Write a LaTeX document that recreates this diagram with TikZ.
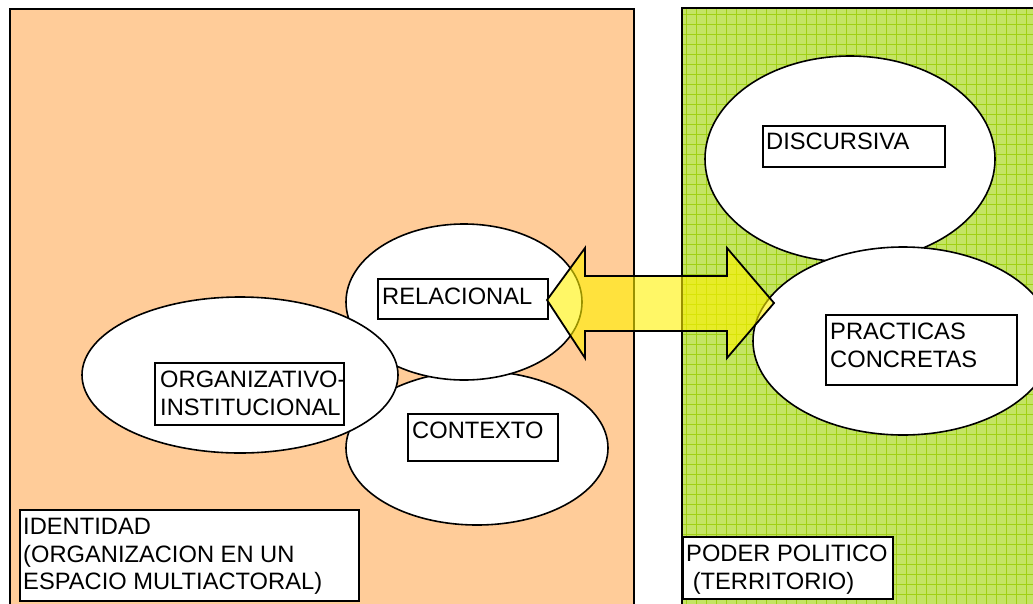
\documentclass[tikz,border=0pt]{standalone}
\usepackage{fontspec}
\setmainfont{Liberation Sans}
\usetikzlibrary{shapes.geometric}
\definecolor{peach}{RGB}{255,204,153}
\definecolor{limebg}{RGB}{196,228,100}
\definecolor{limeline}{RGB}{160,208,20}
\tikzset{
  oval/.style={ellipse, draw=black, line width=1.6pt, fill=white, inner sep=0pt},
  tbox/.style={rectangle, draw=black, line width=2.2pt, fill=white, inner sep=0pt, anchor=north west},
  ttext/.style={anchor=north west, inner sep=0pt, align=left, font=\fontsize{23.7}{27.6}\selectfont},
  panel/.style={draw=black, line width=1.8pt},
  bigarrow/.style={fill=yellow, fill opacity=0.6, draw=black, line width=1.8pt, line join=miter}
}
\begin{document}
\begin{tikzpicture}[x=1pt,y=-1pt]
\clip (0,0) rectangle (1033,603);
\fill[white] (0,0) rectangle (1033,603);
% left panel
\filldraw[panel, fill=peach] (10,9) rectangle (634,620);
% right panel
\fill[limebg] (682,8) rectangle (1045,620);
\foreach \i in {0,...,36} \draw[limeline, line width=0.7pt] (686+\i*10,8) -- (686+\i*10,620);
\foreach \j in {0,...,60} \draw[limeline, line width=0.7pt] (682,14+\j*10) -- (1045,14+\j*10);
\draw[panel] (682,8) rectangle (1045,620);
% ellipses
\node[oval, minimum width=262pt, minimum height=154pt] (econt) at (477,448) {};
\node[oval, minimum width=236pt, minimum height=156pt] (erel) at (464,302) {};
\node[oval, minimum width=316pt, minimum height=156pt] (eorg) at (240,375) {};
\node[oval, minimum width=290pt, minimum height=206pt] (edisc) at (850,159) {};
\node[oval, minimum width=300pt, minimum height=188pt] (eprac) at (903,341) {};
% text boxes
\node[tbox, minimum width=182pt, minimum height=41pt] (bdisc) at (762,125) {};
\node[ttext] (tdisc) at (766,133) {DISCURSIVA};
\node[tbox, minimum width=170pt, minimum height=40pt] (brel) at (377,278) {};
\node[ttext] (trel) at (382,288) {RELACIONAL};
\node[tbox, minimum width=189pt, minimum height=62pt] (borg) at (154,362) {};
\begin{scope}
\clip (154,362) rectangle (342,424);
\node[ttext] (torg) at (160,371) {ORGANIZATIVO-\\INSTITUCIONAL};
\end{scope}
\node[tbox, minimum width=150pt, minimum height=47pt] (bcont) at (407,413) {};
\node[ttext] (tcont) at (412,422) {CONTEXTO};
\node[tbox, minimum width=191pt, minimum height=70pt] (bprac) at (825,314) {};
\node[ttext] (tprac) at (830,323) {PRACTICAS\\CONCRETAS};
\node[tbox, minimum width=339pt, minimum height=91pt] (bid) at (19,509) {};
\node[ttext] (tid) at (23,518) {IDENTIDAD\\(ORGANIZACION EN UN\\ESPACIO MULTIACTORAL)};
\node[tbox, minimum width=210pt, minimum height=62pt] (bpod) at (682,536) {};
\node[ttext] (tpod) at (686,545) {PODER POLITICO\\\hspace*{6.6pt}(TERRITORIO)};
% double arrow
\filldraw[bigarrow] (547,300) -- (585,248) -- (585,276) -- (727,276) -- (727,248) -- (774,303)
  -- (727,358) -- (727,331) -- (585,331) -- (585,358) -- cycle;
\end{tikzpicture}
\end{document}
